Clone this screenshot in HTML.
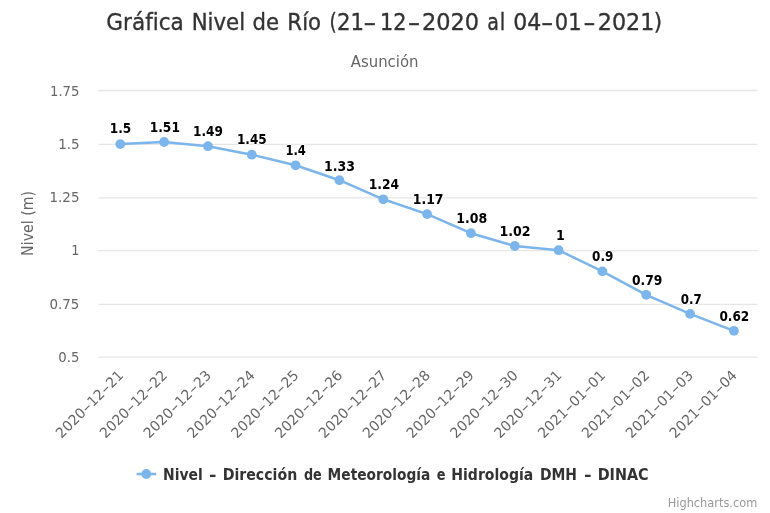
<!DOCTYPE html>
<html lang="es"><head><meta charset="utf-8"><title>Gráfica Nivel de Río</title>
<style>html,body{margin:0;padding:0;background:#fff;overflow:hidden}svg{display:block}text{font-family:"DejaVu Sans", "Liberation Sans", sans-serif;white-space:pre}</style></head><body>
<svg width="770" height="513" viewBox="0 0 770 513">
<rect width="770" height="513" fill="#ffffff"/>
<path d="M98.4 90.5 H757.5" stroke="#e6e6e6" stroke-width="1.28" fill="none"/>
<path d="M98.4 144.4 H757.5" stroke="#e6e6e6" stroke-width="1.28" fill="none"/>
<path d="M98.4 197.9 H757.5" stroke="#e6e6e6" stroke-width="1.28" fill="none"/>
<path d="M98.4 250.7 H757.5" stroke="#e6e6e6" stroke-width="1.28" fill="none"/>
<path d="M98.4 304.4 H757.5" stroke="#e6e6e6" stroke-width="1.28" fill="none"/>
<path d="M98.4 357.1 H757.5" stroke="#e6e6e6" stroke-width="1.28" fill="none"/>
<text x="49.96" y="95.7" font-size="14.1" fill="#666666" textLength="29.55" lengthAdjust="spacingAndGlyphs">1.75</text>
<text x="58.15" y="148.9" font-size="14.1" fill="#666666" textLength="21.38" lengthAdjust="spacingAndGlyphs">1.5</text>
<text x="49.54" y="202.2" font-size="14.1" fill="#666666" textLength="29.98" lengthAdjust="spacingAndGlyphs">1.25</text>
<text x="71.29" y="255.4" font-size="14.1" fill="#666666" textLength="8.20" lengthAdjust="spacingAndGlyphs">1</text>
<text x="49.50" y="308.6" font-size="14.1" fill="#666666" textLength="29.92" lengthAdjust="spacingAndGlyphs">0.75</text>
<text x="58.30" y="361.9" font-size="14.1" fill="#666666" textLength="21.11" lengthAdjust="spacingAndGlyphs">0.5</text>
<text transform="translate(33.1,255.0) rotate(-90)" x="-0.92" font-size="15.4" fill="#666666" textLength="65.05" lengthAdjust="spacingAndGlyphs">Nivel (m)</text>
<text y="30.3" font-size="23.1" fill="#333333" stroke="#333333" stroke-width="0.35"><tspan x="106.37" textLength="77.41" lengthAdjust="spacingAndGlyphs">Gráfica</tspan> <tspan x="191.66" textLength="53.45" lengthAdjust="spacingAndGlyphs">Nivel</tspan> <tspan x="252.58" textLength="26.53" lengthAdjust="spacingAndGlyphs">de</tspan> <tspan x="287.36" textLength="33.68" lengthAdjust="spacingAndGlyphs">Río</tspan> <tspan x="329.40" textLength="7.21" lengthAdjust="spacingAndGlyphs">(</tspan><tspan x="336.98" textLength="27.08" lengthAdjust="spacingAndGlyphs">21</tspan><tspan x="363.33" textLength="13.09" lengthAdjust="spacingAndGlyphs">-</tspan><tspan x="379.99" textLength="26.53" lengthAdjust="spacingAndGlyphs">12</tspan><tspan x="407.79" textLength="12.62" lengthAdjust="spacingAndGlyphs">-</tspan><tspan x="422.03" textLength="57.15" lengthAdjust="spacingAndGlyphs">2020</tspan> <tspan x="487.18" textLength="11.68" lengthAdjust="spacingAndGlyphs">a</tspan><tspan x="499.77" textLength="5.56" lengthAdjust="spacingAndGlyphs">l</tspan> <tspan x="513.15" textLength="28.01" lengthAdjust="spacingAndGlyphs">04</tspan><tspan x="541.11" textLength="12.38" lengthAdjust="spacingAndGlyphs">-</tspan><tspan x="554.79" textLength="26.75" lengthAdjust="spacingAndGlyphs">01</tspan><tspan x="583.31" textLength="12.38" lengthAdjust="spacingAndGlyphs">-</tspan><tspan x="597.74" textLength="56.59" lengthAdjust="spacingAndGlyphs">2021</tspan><tspan x="653.87" textLength="8.37" lengthAdjust="spacingAndGlyphs">)</tspan></text>
<text x="350.80" y="67.0" font-size="15.2" fill="#666666" textLength="67.71" lengthAdjust="spacingAndGlyphs">Asunción</text>
<path d="M120.3 144.1 L164.1 142.0 L208.0 146.2 L251.8 154.7 L295.6 165.3 L339.4 180.2 L383.3 199.3 L427.1 214.1 L470.9 233.2 L514.8 246.0 L558.6 250.2 L602.4 271.4 L646.2 294.8 L690.1 313.9 L733.9 330.8" stroke="#7cb5ec" stroke-width="2.5" fill="none" stroke-linejoin="round" stroke-linecap="round"/>
<circle cx="120.3" cy="144.1" r="4.9" fill="#7cb5ec"/>
<circle cx="164.1" cy="142.0" r="4.9" fill="#7cb5ec"/>
<circle cx="208.0" cy="146.2" r="4.9" fill="#7cb5ec"/>
<circle cx="251.8" cy="154.7" r="4.9" fill="#7cb5ec"/>
<circle cx="295.6" cy="165.3" r="4.9" fill="#7cb5ec"/>
<circle cx="339.4" cy="180.2" r="4.9" fill="#7cb5ec"/>
<circle cx="383.3" cy="199.3" r="4.9" fill="#7cb5ec"/>
<circle cx="427.1" cy="214.1" r="4.9" fill="#7cb5ec"/>
<circle cx="470.9" cy="233.2" r="4.9" fill="#7cb5ec"/>
<circle cx="514.8" cy="246.0" r="4.9" fill="#7cb5ec"/>
<circle cx="558.6" cy="250.2" r="4.9" fill="#7cb5ec"/>
<circle cx="602.4" cy="271.4" r="4.9" fill="#7cb5ec"/>
<circle cx="646.2" cy="294.8" r="4.9" fill="#7cb5ec"/>
<circle cx="690.1" cy="313.9" r="4.9" fill="#7cb5ec"/>
<circle cx="733.9" cy="330.8" r="4.9" fill="#7cb5ec"/>
<text x="109.74" y="132.9" font-size="14.1" font-weight="bold" fill="#000000" stroke="#ffffff" stroke-width="1.3" paint-order="stroke" stroke-linejoin="round" textLength="21.45" lengthAdjust="spacingAndGlyphs">1.5</text>
<text x="149.73" y="132.0" font-size="14.1" font-weight="bold" fill="#000000" stroke="#ffffff" stroke-width="1.3" paint-order="stroke" stroke-linejoin="round" textLength="30.17" lengthAdjust="spacingAndGlyphs">1.51</text>
<text x="193.04" y="135.7" font-size="14.1" font-weight="bold" fill="#000000" stroke="#ffffff" stroke-width="1.3" paint-order="stroke" stroke-linejoin="round" textLength="29.85" lengthAdjust="spacingAndGlyphs">1.49</text>
<text x="236.94" y="144.4" font-size="14.1" font-weight="bold" fill="#000000" stroke="#ffffff" stroke-width="1.3" paint-order="stroke" stroke-linejoin="round" textLength="29.75" lengthAdjust="spacingAndGlyphs">1.45</text>
<text x="285.38" y="155.1" font-size="14.1" font-weight="bold" fill="#000000" stroke="#ffffff" stroke-width="1.3" paint-order="stroke" stroke-linejoin="round" textLength="20.56" lengthAdjust="spacingAndGlyphs">1.4</text>
<text x="323.91" y="170.5" font-size="14.1" font-weight="bold" fill="#000000" stroke="#ffffff" stroke-width="1.3" paint-order="stroke" stroke-linejoin="round" textLength="31.01" lengthAdjust="spacingAndGlyphs">1.33</text>
<text x="368.63" y="188.8" font-size="14.1" font-weight="bold" fill="#000000" stroke="#ffffff" stroke-width="1.3" paint-order="stroke" stroke-linejoin="round" textLength="30.41" lengthAdjust="spacingAndGlyphs">1.24</text>
<text x="412.82" y="203.8" font-size="14.1" font-weight="bold" fill="#000000" stroke="#ffffff" stroke-width="1.3" paint-order="stroke" stroke-linejoin="round" textLength="30.69" lengthAdjust="spacingAndGlyphs">1.17</text>
<text x="456.21" y="222.6" font-size="14.1" font-weight="bold" fill="#000000" stroke="#ffffff" stroke-width="1.3" paint-order="stroke" stroke-linejoin="round" textLength="30.91" lengthAdjust="spacingAndGlyphs">1.08</text>
<text x="499.41" y="235.7" font-size="14.1" font-weight="bold" fill="#000000" stroke="#ffffff" stroke-width="1.3" paint-order="stroke" stroke-linejoin="round" textLength="31.12" lengthAdjust="spacingAndGlyphs">1.02</text>
<text x="555.90" y="240.0" font-size="14.1" font-weight="bold" fill="#000000" stroke="#ffffff" stroke-width="1.3" paint-order="stroke" stroke-linejoin="round" textLength="8.83" lengthAdjust="spacingAndGlyphs">1</text>
<text x="592.10" y="261.4" font-size="14.1" font-weight="bold" fill="#000000" stroke="#ffffff" stroke-width="1.3" paint-order="stroke" stroke-linejoin="round" textLength="21.29" lengthAdjust="spacingAndGlyphs">0.9</text>
<text x="631.90" y="284.9" font-size="14.1" font-weight="bold" fill="#000000" stroke="#ffffff" stroke-width="1.3" paint-order="stroke" stroke-linejoin="round" textLength="30.41" lengthAdjust="spacingAndGlyphs">0.79</text>
<text x="680.80" y="304.1" font-size="14.1" font-weight="bold" fill="#000000" stroke="#ffffff" stroke-width="1.3" paint-order="stroke" stroke-linejoin="round" textLength="21.08" lengthAdjust="spacingAndGlyphs">0.7</text>
<text x="719.40" y="320.7" font-size="14.1" font-weight="bold" fill="#000000" stroke="#ffffff" stroke-width="1.3" paint-order="stroke" stroke-linejoin="round" textLength="29.89" lengthAdjust="spacingAndGlyphs">0.62</text>
<text transform="translate(62.3,438.2) rotate(-45)" font-size="14.1" fill="#666666"><tspan x="-1.00" textLength="35.64" lengthAdjust="spacingAndGlyphs">2020</tspan><tspan x="34.64" textLength="8.70" lengthAdjust="spacingAndGlyphs">-</tspan><tspan x="43.34" textLength="17.82" lengthAdjust="spacingAndGlyphs">12</tspan><tspan x="61.16" textLength="8.70" lengthAdjust="spacingAndGlyphs">-</tspan><tspan x="69.86" textLength="17.82" lengthAdjust="spacingAndGlyphs">21</tspan></text>
<text transform="translate(106.1,438.2) rotate(-45)" font-size="14.1" fill="#666666"><tspan x="-1.00" textLength="35.64" lengthAdjust="spacingAndGlyphs">2020</tspan><tspan x="34.64" textLength="8.70" lengthAdjust="spacingAndGlyphs">-</tspan><tspan x="43.34" textLength="17.82" lengthAdjust="spacingAndGlyphs">12</tspan><tspan x="61.16" textLength="8.70" lengthAdjust="spacingAndGlyphs">-</tspan><tspan x="69.86" textLength="17.82" lengthAdjust="spacingAndGlyphs">22</tspan></text>
<text transform="translate(150.0,438.2) rotate(-45)" font-size="14.1" fill="#666666"><tspan x="-1.00" textLength="35.64" lengthAdjust="spacingAndGlyphs">2020</tspan><tspan x="34.64" textLength="8.70" lengthAdjust="spacingAndGlyphs">-</tspan><tspan x="43.34" textLength="17.82" lengthAdjust="spacingAndGlyphs">12</tspan><tspan x="61.16" textLength="8.70" lengthAdjust="spacingAndGlyphs">-</tspan><tspan x="69.86" textLength="17.82" lengthAdjust="spacingAndGlyphs">23</tspan></text>
<text transform="translate(193.8,438.2) rotate(-45)" font-size="14.1" fill="#666666"><tspan x="-1.00" textLength="35.64" lengthAdjust="spacingAndGlyphs">2020</tspan><tspan x="34.64" textLength="8.70" lengthAdjust="spacingAndGlyphs">-</tspan><tspan x="43.34" textLength="17.82" lengthAdjust="spacingAndGlyphs">12</tspan><tspan x="61.16" textLength="8.70" lengthAdjust="spacingAndGlyphs">-</tspan><tspan x="69.86" textLength="17.82" lengthAdjust="spacingAndGlyphs">24</tspan></text>
<text transform="translate(237.6,438.2) rotate(-45)" font-size="14.1" fill="#666666"><tspan x="-1.00" textLength="35.64" lengthAdjust="spacingAndGlyphs">2020</tspan><tspan x="34.64" textLength="8.70" lengthAdjust="spacingAndGlyphs">-</tspan><tspan x="43.34" textLength="17.82" lengthAdjust="spacingAndGlyphs">12</tspan><tspan x="61.16" textLength="8.70" lengthAdjust="spacingAndGlyphs">-</tspan><tspan x="69.86" textLength="17.82" lengthAdjust="spacingAndGlyphs">25</tspan></text>
<text transform="translate(281.4,438.2) rotate(-45)" font-size="14.1" fill="#666666"><tspan x="-1.00" textLength="35.64" lengthAdjust="spacingAndGlyphs">2020</tspan><tspan x="34.64" textLength="8.70" lengthAdjust="spacingAndGlyphs">-</tspan><tspan x="43.34" textLength="17.82" lengthAdjust="spacingAndGlyphs">12</tspan><tspan x="61.16" textLength="8.70" lengthAdjust="spacingAndGlyphs">-</tspan><tspan x="69.86" textLength="17.82" lengthAdjust="spacingAndGlyphs">26</tspan></text>
<text transform="translate(325.3,438.2) rotate(-45)" font-size="14.1" fill="#666666"><tspan x="-1.00" textLength="35.64" lengthAdjust="spacingAndGlyphs">2020</tspan><tspan x="34.64" textLength="8.70" lengthAdjust="spacingAndGlyphs">-</tspan><tspan x="43.34" textLength="17.82" lengthAdjust="spacingAndGlyphs">12</tspan><tspan x="61.16" textLength="8.70" lengthAdjust="spacingAndGlyphs">-</tspan><tspan x="69.86" textLength="17.82" lengthAdjust="spacingAndGlyphs">27</tspan></text>
<text transform="translate(369.1,438.2) rotate(-45)" font-size="14.1" fill="#666666"><tspan x="-1.00" textLength="35.64" lengthAdjust="spacingAndGlyphs">2020</tspan><tspan x="34.64" textLength="8.70" lengthAdjust="spacingAndGlyphs">-</tspan><tspan x="43.34" textLength="17.82" lengthAdjust="spacingAndGlyphs">12</tspan><tspan x="61.16" textLength="8.70" lengthAdjust="spacingAndGlyphs">-</tspan><tspan x="69.86" textLength="17.82" lengthAdjust="spacingAndGlyphs">28</tspan></text>
<text transform="translate(412.9,438.2) rotate(-45)" font-size="14.1" fill="#666666"><tspan x="-1.00" textLength="35.64" lengthAdjust="spacingAndGlyphs">2020</tspan><tspan x="34.64" textLength="8.70" lengthAdjust="spacingAndGlyphs">-</tspan><tspan x="43.34" textLength="17.82" lengthAdjust="spacingAndGlyphs">12</tspan><tspan x="61.16" textLength="8.70" lengthAdjust="spacingAndGlyphs">-</tspan><tspan x="69.86" textLength="17.82" lengthAdjust="spacingAndGlyphs">29</tspan></text>
<text transform="translate(456.8,438.2) rotate(-45)" font-size="14.1" fill="#666666"><tspan x="-1.00" textLength="35.64" lengthAdjust="spacingAndGlyphs">2020</tspan><tspan x="34.64" textLength="8.70" lengthAdjust="spacingAndGlyphs">-</tspan><tspan x="43.34" textLength="17.82" lengthAdjust="spacingAndGlyphs">12</tspan><tspan x="61.16" textLength="8.70" lengthAdjust="spacingAndGlyphs">-</tspan><tspan x="69.86" textLength="17.82" lengthAdjust="spacingAndGlyphs">30</tspan></text>
<text transform="translate(500.6,438.2) rotate(-45)" font-size="14.1" fill="#666666"><tspan x="-1.00" textLength="35.64" lengthAdjust="spacingAndGlyphs">2020</tspan><tspan x="34.64" textLength="8.70" lengthAdjust="spacingAndGlyphs">-</tspan><tspan x="43.34" textLength="17.82" lengthAdjust="spacingAndGlyphs">12</tspan><tspan x="61.16" textLength="8.70" lengthAdjust="spacingAndGlyphs">-</tspan><tspan x="69.86" textLength="17.82" lengthAdjust="spacingAndGlyphs">31</tspan></text>
<text transform="translate(544.4,438.2) rotate(-45)" font-size="14.1" fill="#666666"><tspan x="-1.00" textLength="35.64" lengthAdjust="spacingAndGlyphs">2021</tspan><tspan x="34.64" textLength="8.70" lengthAdjust="spacingAndGlyphs">-</tspan><tspan x="43.34" textLength="17.82" lengthAdjust="spacingAndGlyphs">01</tspan><tspan x="61.16" textLength="8.70" lengthAdjust="spacingAndGlyphs">-</tspan><tspan x="69.86" textLength="17.82" lengthAdjust="spacingAndGlyphs">01</tspan></text>
<text transform="translate(588.2,438.2) rotate(-45)" font-size="14.1" fill="#666666"><tspan x="-1.00" textLength="35.64" lengthAdjust="spacingAndGlyphs">2021</tspan><tspan x="34.64" textLength="8.70" lengthAdjust="spacingAndGlyphs">-</tspan><tspan x="43.34" textLength="17.82" lengthAdjust="spacingAndGlyphs">01</tspan><tspan x="61.16" textLength="8.70" lengthAdjust="spacingAndGlyphs">-</tspan><tspan x="69.86" textLength="17.82" lengthAdjust="spacingAndGlyphs">02</tspan></text>
<text transform="translate(632.1,438.2) rotate(-45)" font-size="14.1" fill="#666666"><tspan x="-1.00" textLength="35.64" lengthAdjust="spacingAndGlyphs">2021</tspan><tspan x="34.64" textLength="8.70" lengthAdjust="spacingAndGlyphs">-</tspan><tspan x="43.34" textLength="17.82" lengthAdjust="spacingAndGlyphs">01</tspan><tspan x="61.16" textLength="8.70" lengthAdjust="spacingAndGlyphs">-</tspan><tspan x="69.86" textLength="17.82" lengthAdjust="spacingAndGlyphs">03</tspan></text>
<text transform="translate(675.9,438.2) rotate(-45)" font-size="14.1" fill="#666666"><tspan x="-1.00" textLength="35.64" lengthAdjust="spacingAndGlyphs">2021</tspan><tspan x="34.64" textLength="8.70" lengthAdjust="spacingAndGlyphs">-</tspan><tspan x="43.34" textLength="17.82" lengthAdjust="spacingAndGlyphs">01</tspan><tspan x="61.16" textLength="8.70" lengthAdjust="spacingAndGlyphs">-</tspan><tspan x="69.86" textLength="17.82" lengthAdjust="spacingAndGlyphs">04</tspan></text>
<path d="M136.6 474 H156.2" stroke="#7cb5ec" stroke-width="2.5"/>
<circle cx="146.3" cy="474" r="4.9" fill="#7cb5ec"/>
<text y="479.6" font-size="15.4" fill="#333333" font-weight="bold"><tspan x="163.09" textLength="39.76" lengthAdjust="spacingAndGlyphs">Nivel</tspan> <tspan x="209.00" textLength="7.45" lengthAdjust="spacingAndGlyphs">-</tspan> <tspan x="222.68" textLength="74.60" lengthAdjust="spacingAndGlyphs">Dirección</tspan> <tspan x="303.90" textLength="17.86" lengthAdjust="spacingAndGlyphs">de</tspan> <tspan x="327.61" textLength="102.74" lengthAdjust="spacingAndGlyphs">Meteorología</tspan> <tspan x="436.80" textLength="8.77" lengthAdjust="spacingAndGlyphs">e</tspan> <tspan x="451.29" textLength="82.07" lengthAdjust="spacingAndGlyphs">Hidrología</tspan> <tspan x="539.89" textLength="37.10" lengthAdjust="spacingAndGlyphs">DMH</tspan> <tspan x="584.00" textLength="7.67" lengthAdjust="spacingAndGlyphs">-</tspan> <tspan x="597.67" textLength="50.91" lengthAdjust="spacingAndGlyphs">DINAC</tspan></text>
<text x="667.72" y="507.3" font-size="11.55" fill="#999999" textLength="89.53" lengthAdjust="spacingAndGlyphs">Highcharts.com</text>
</svg></body></html>
